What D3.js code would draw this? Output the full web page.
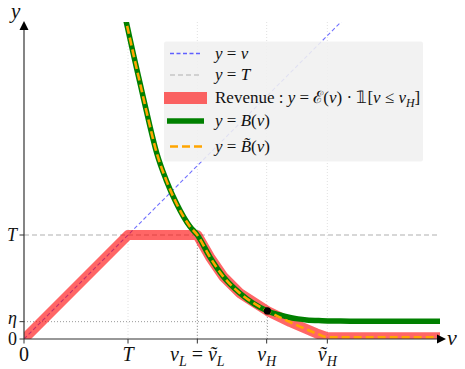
<!DOCTYPE html>
<html><head><meta charset="utf-8">
<script src="https://cdn.jsdelivr.net/npm/d3@7"></script>
<style>body{margin:0;background:#fff}</style>
</head><body><svg id="c" width="465" height="369"></svg>
<script>
// ---- data ----
const xTickValues = [0, 3, 5, 7, 8.75];
const xTickLabels = [
  [{t:"0"}],
  [{t:"T", i:1}],
  [{t:"v", i:1},{t:"L", i:1, s:1},{t:" = "},{t:"ṽ", i:1},{t:"L", i:1, s:1}],
  [{t:"v", i:1},{t:"H", i:1, s:1}],
  [{t:"ṽ", i:1},{t:"H", i:1, s:1}]
];
const yTickValues = [0, 0.5, 3];
const yTickLabels = [[{t:"0"}],[{t:"η", i:1}],[{t:"T", i:1}]];

const identityV = [0, 12];
const thresholdT = 3;
const xMax = 12;

// B(v)
const bV = [2.9, 2.98, 3.15, 3.37, 3.59, 3.83, 4.10, 4.40, 4.79, 5.0, 5.36, 5.75, 6.23, 7.02, 7.35, 7.67, 7.9, 8.15, 8.6, 9.11, 10, 12];
const bY = [9.37, 9.01, 8.24, 7.28, 6.32, 5.36, 4.59, 3.91, 3.24, 3.0, 2.37, 1.80, 1.32, 0.81, 0.70, 0.62, 0.58, 0.55, 0.53, 0.52, 0.51, 0.51];
// B~(v)
const btV = [2.9, 2.98, 3.15, 3.37, 3.59, 3.83, 4.10, 4.40, 4.79, 5.0, 5.36, 5.75, 6.23, 7.02, 7.67, 8.44, 8.75, 12];
const btY = [9.37, 9.01, 8.24, 7.28, 6.32, 5.36, 4.59, 3.91, 3.24, 3.0, 2.37, 1.80, 1.32, 0.81, 0.49, 0.16, 0.05, 0.05];
// Revenue
const revV = [0, 3, 5, 5.36, 5.75, 6.23, 7.02, 7.67, 8.44, 8.75, 12];
const revY = [0, 3, 3, 2.37, 1.80, 1.32, 0.81, 0.49, 0.16, 0.05, 0.05];
const vHPoint = [7.02, 0.81];
const etaVal = 0.5;

const legendLabels = [
  [{t:"y", i:1},{t:" = "},{t:"v", i:1}],
  [{t:"y", i:1},{t:" = "},{t:"T", i:1}],
  [{t:"Revenue : "},{t:"y", i:1},{t:" = "},{t:"ℰ"},{t:"("},{t:"v", i:1},{t:") · 𝟙["},{t:"v", i:1},{t:" ≤ "},{t:"v", i:1},{t:"H", i:1, s:1},{t:"]"}],
  [{t:"y", i:1},{t:" = "},{t:"B", i:1},{t:"("},{t:"v", i:1},{t:")"}],
  [{t:"y", i:1},{t:" = "},{t:"B̃", i:1},{t:"("},{t:"v", i:1},{t:")"}]
];

// ---- drawing ----
const FONT = "Liberation Serif";
const svg = d3.select("#c");
const x = d3.scaleLinear([0, 12], [24, 440]);
const y = d3.scaleLinear([0, 9], [339, 27]);

function mathText(sel, segs, size) {
  sel.attr("font-family", FONT).attr("fill", "#111");
  let shift = 0;
  segs.forEach(s => {
    const cur = s.s ? 1 : 0;
    const ts = sel.append("tspan").text(s.t)
      .attr("font-family", FONT)
      .attr("font-style", s.i ? "italic" : "normal")
      .attr("font-size", s.s ? size * 0.7 : size);
    if (cur !== shift) ts.attr("dy", cur ? size * 0.25 : -size * 0.25);
    shift = cur;
  });
}

svg.append("defs").append("clipPath").attr("id", "clip")
  .append("rect").attr("x", 24).attr("y", 22).attr("width", 425).attr("height", 317);

const g = svg.append("g").attr("clip-path", "url(#clip)");

// faint vertical grid at x ticks
xTickValues.slice(1).forEach(v => {
  g.append("line").attr("x1", x(v)).attr("x2", x(v)).attr("y1", 22).attr("y2", 339)
    .attr("stroke", "#d8d8d8").attr("stroke-width", 0.8).attr("stroke-dasharray", "1,2");
});

const line = d3.line().x(d => x(d[0])).y(d => y(d[1]));
const smooth = d3.line().curve(d3.curveMonotoneX).x(d => x(d[0])).y(d => y(d[1]));

// y = v
g.append("path").attr("d", line(identityV.map(v => [v, v])))
  .attr("fill", "none").attr("stroke", "#7070ff").attr("stroke-width", 1.1).attr("stroke-dasharray", "4,2.5");
// y = T
g.append("path").attr("d", line([[0, thresholdT], [xMax, thresholdT]]))
  .attr("fill", "none").attr("stroke", "#b0b0b0").attr("stroke-width", 1.1).attr("stroke-dasharray", "5,3");

// dotted guides
const guide = (a, b) => g.append("path").attr("d", line([a, b])).attr("fill", "none")
  .attr("stroke", "#999").attr("stroke-width", 1).attr("stroke-dasharray", "1,2");
guide([5, 0], [5, 3]);
guide([vHPoint[0], 0], vHPoint);
guide([0, etaVal], [vHPoint[0], etaVal]);

// revenue
g.append("path").attr("d", line(revV.map((v, k) => [v, revY[k]])))
  .attr("fill", "none").attr("stroke", "red").attr("stroke-opacity", 0.6).attr("stroke-width", 10)
  .attr("stroke-linejoin", "round");
// B
g.append("path").attr("d", smooth(bV.map((v, k) => [v, bY[k]])))
  .attr("fill", "none").attr("stroke", "#008000").attr("stroke-width", 5.5);
// B~
g.append("path").attr("d", smooth(btV.map((v, k) => [v, btY[k]])))
  .attr("fill", "none").attr("stroke", "#FFA500").attr("stroke-width", 2.6).attr("stroke-dasharray", "8,4");

// point
g.append("circle").attr("cx", x(vHPoint[0])).attr("cy", y(vHPoint[1])).attr("r", 3.6).attr("fill", "#000");

// axes
svg.append("line").attr("x1", 24).attr("x2", 440).attr("y1", 339).attr("y2", 339).attr("stroke", "#333").attr("stroke-width", 1.2);
svg.append("line").attr("x1", 24).attr("x2", 24).attr("y1", 339).attr("y2", 28).attr("stroke", "#333").attr("stroke-width", 1.2);
svg.append("path").attr("d", "M446,339 L437,334.5 L437,343.5 Z").attr("fill", "#000");
svg.append("path").attr("d", "M24,21 L19.5,30 L28.5,30 Z").attr("fill", "#000");

// x ticks
xTickValues.forEach((v, k) => {
  svg.append("line").attr("x1", x(v)).attr("x2", x(v)).attr("y1", 339).attr("y2", 343.5).attr("stroke", "#333");
  const t = svg.append("text").attr("x", x(v)).attr("y", 361).attr("text-anchor", "middle");
  mathText(t, xTickLabels[k], 20);
});
// y ticks
const yLabelOffset = [6, 2, 6];
yTickValues.forEach((v, k) => {
  svg.append("line").attr("x1", 19.5).attr("x2", 24).attr("y1", y(v)).attr("y2", y(v)).attr("stroke", "#333");
  const t = svg.append("text").attr("x", 17).attr("y", y(v) + yLabelOffset[k]).attr("text-anchor", "end");
  mathText(t, yTickLabels[k], 18);
});
// axis labels
mathText(svg.append("text").attr("x", 11).attr("y", 18), [{t:"y", i:1}], 21);
mathText(svg.append("text").attr("x", 447).attr("y", 345), [{t:"v", i:1}], 22);

// legend
const lg = svg.append("g");
lg.append("rect").attr("x", 164).attr("y", 41.5).attr("width", 259).attr("height", 120).attr("rx", 2)
  .attr("fill", "#f0f0f0").attr("fill-opacity", 0.88);
const rowsY = [53.5, 75, 98, 121, 146.5];
const sample = [
  s => s.append("line").attr("x1", 170).attr("x2", 202).attr("y1", rowsY[0]).attr("y2", rowsY[0]).attr("stroke", "#6060ff").attr("stroke-width", 1.3).attr("stroke-dasharray", "4,2.5"),
  s => s.append("line").attr("x1", 170).attr("x2", 202).attr("y1", rowsY[1]).attr("y2", rowsY[1]).attr("stroke", "#b0b0b0").attr("stroke-width", 1.2).attr("stroke-dasharray", "5,3"),
  s => s.append("rect").attr("x", 164).attr("y", rowsY[2] - 6).attr("width", 43).attr("height", 12).attr("fill", "red").attr("fill-opacity", 0.6),
  s => s.append("line").attr("x1", 167).attr("x2", 204).attr("y1", rowsY[3]).attr("y2", rowsY[3]).attr("stroke", "#008000").attr("stroke-width", 5.5),
  s => s.append("line").attr("x1", 170).attr("x2", 202).attr("y1", rowsY[4]).attr("y2", rowsY[4]).attr("stroke", "#FFA500").attr("stroke-width", 2.6).attr("stroke-dasharray", "8,4")
];
legendLabels.forEach((lab, k) => {
  sample[k](lg);
  const t = lg.append("text").attr("x", 215).attr("y", rowsY[k] + 5);
  mathText(t, lab, 17);
});
</script></body></html>
